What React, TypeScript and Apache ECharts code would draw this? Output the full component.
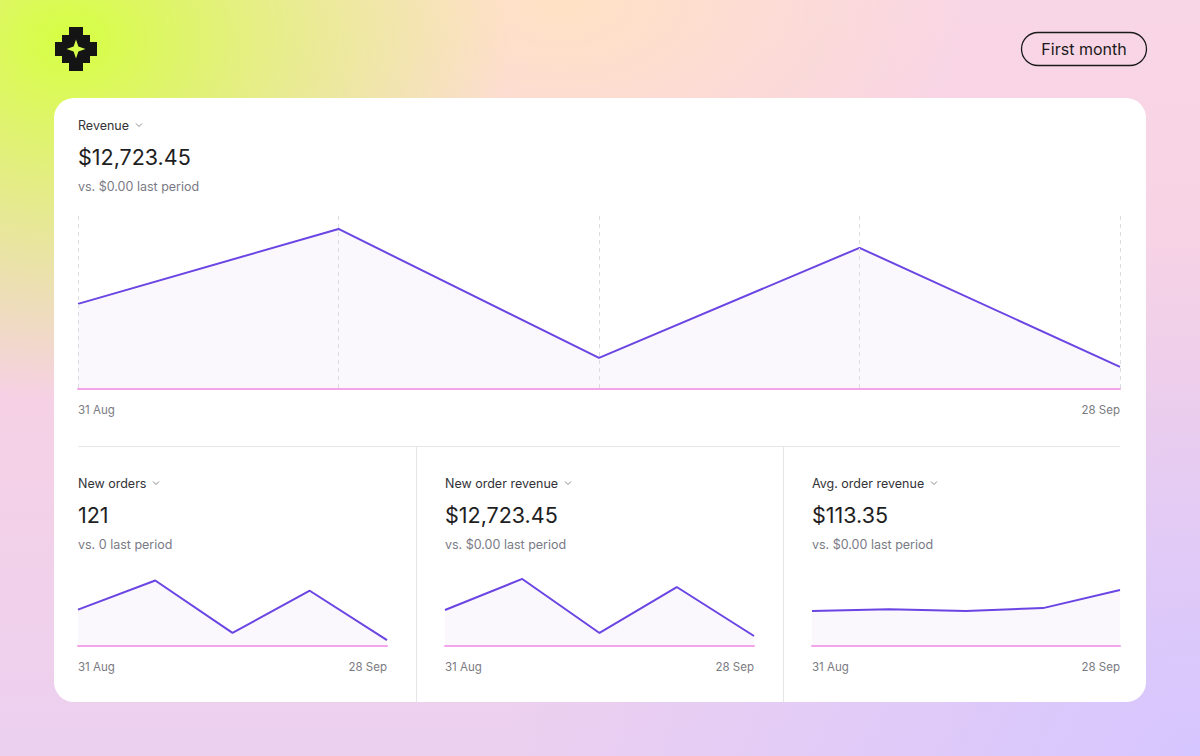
import React, { useEffect, useRef } from "react";
import * as echarts from "echarts";

const categories = ["31 Aug", "7 Sep", "14 Sep", "21 Sep", "28 Sep"];
const revenue = [2460, 4625, 900, 4080, 640];
const newOrders = [25, 45, 9, 38, 4];
const newOrderRevenue = [2475, 4610, 895, 4055, 688];
const avgOrderRevenue = [99, 104, 99, 107, 158];

const FONT = "Inter, 'Noto Sans', sans-serif";
const LINE = "#6a45e3";
const AREA = "#faf7fd";
const BASE = "#f3a5ea";

const txt = (x: number, y: number, text: string, size: number, fill: string, align = "left") => ({
  type: "text",
  x,
  y,
  style: { text, fontSize: size, fill, fontFamily: FONT, align, verticalAlign: "middle" },
  z: 10,
});

const chevron = (x: number, y: number) => ({
  type: "polyline",
  shape: { points: [[x - 3, y - 1.5], [x, y + 1.5], [x + 3, y - 1.5]] },
  style: { stroke: "#8a8a92", lineWidth: 1, fill: null },
  z: 10,
});

export default function App() {
  const ref = useRef<HTMLDivElement>(null);
  useEffect(() => {
    document.body.style.margin = "0";
    const chart = echarts.init(ref.current!, undefined, { renderer: "svg" });

    const c = 76, cy = 49;
    const crossPts = [
      [-7, -22], [7, -22], [7, -14], [14, -14], [14, -7], [21, -7], [21, 7], [14, 7], [14, 14], [7, 14],
      [7, 22], [-7, 22], [-7, 14], [-14, 14], [-14, 7], [-21, 7], [-21, -7], [-14, -7], [-14, -14], [-7, -14],
    ].map(([a, b]) => [c + a, cy + b]);
    const r = 9.5, ri = 2.4;
    const starPts = [
      [0, -r], [ri, -ri], [r, 0], [ri, ri], [0, r], [-ri, ri], [-r, 0], [-ri, -ri],
    ].map(([a, b]) => [c + a, cy + b]);

    const grids = [
      { left: 78, top: 216, width: 1042, height: 173 },
      { left: 78, top: 566, width: 309, height: 80 },
      { left: 445, top: 566, width: 309, height: 80 },
      { left: 812, top: 566, width: 308, height: 80 },
    ];
    const maxes = [5000, 55, 5500, 226];
    const datas = [revenue, newOrders, newOrderRevenue, avgOrderRevenue];

    const xAxis = grids.map((_, i) => ({
      type: "category",
      gridIndex: i,
      data: categories,
      boundaryGap: false,
      z: 6,
      axisLine: { show: true, lineStyle: { color: BASE, width: 2 } },
      axisTick: { show: false },
      axisLabel: {
        interval: 0,
        margin: 15,
        fontSize: 11.5,
        color: "#7a7a82",
        fontFamily: FONT,
        alignMinLabel: "left",
        alignMaxLabel: "right",
        formatter: (v: string, idx: number) => (idx === 0 || idx === categories.length - 1 ? v : ""),
      },
      splitLine: {
        show: i === 0,
        lineStyle: { color: "#dcdce0", type: [4, 4], width: 1 },
      },
    }));
    const yAxis = grids.map((_, i) => ({
      type: "value",
      gridIndex: i,
      min: 0,
      max: maxes[i],
      show: false,
      splitLine: { show: false },
    }));
    const series = datas.map((d, i) => ({
      type: "line",
      xAxisIndex: i,
      yAxisIndex: i,
      data: d,
      symbol: "none",
      lineStyle: { color: LINE, width: 2 },
      areaStyle: { color: AREA, opacity: 1 },
      z: 3,
    }));

    chart.setOption({
      animation: false,
      backgroundColor: "transparent",
      grid: grids,
      xAxis,
      yAxis,
      series,
      graphic: [
        { type: "rect", shape: { x: 54, y: 98, width: 1092, height: 604, r: 20 }, style: { fill: "#ffffff" }, z: 0 },
        { type: "polygon", shape: { points: crossPts }, style: { fill: "#141414" }, z: 10 },
        { type: "polygon", shape: { points: starPts }, style: { fill: "#d6fd48" }, z: 11 },
        { type: "rect", shape: { x: 1021.5, y: 32.5, width: 125, height: 33, r: 16.5 }, style: { fill: "transparent", stroke: "#1a1a1a", lineWidth: 1.3 }, z: 10 },
        txt(1084, 49, "First month", 16, "#1a1a1a", "center"),
        txt(78, 125, "Revenue", 12.5, "#333338"),
        chevron(139, 125),
        txt(78, 157, "$12,723.45", 21.5, "#1e1e22"),
        txt(78, 186, "vs. $0.00 last period", 12.5, "#7a7a85"),
        { type: "line", shape: { x1: 78, y1: 446.5, x2: 1120, y2: 446.5 }, style: { stroke: "#e6e6ea", lineWidth: 1 }, z: 5 },
        { type: "line", shape: { x1: 416.5, y1: 447, x2: 416.5, y2: 702 }, style: { stroke: "#e6e6ea", lineWidth: 1 }, z: 5 },
        { type: "line", shape: { x1: 783.5, y1: 447, x2: 783.5, y2: 702 }, style: { stroke: "#e6e6ea", lineWidth: 1 }, z: 5 },
        txt(78, 483, "New orders", 12.5, "#333338"),
        chevron(156, 483),
        txt(78, 515, "121", 21.5, "#1e1e22"),
        txt(78, 544, "vs. 0 last period", 12.5, "#7a7a85"),
        txt(445, 483, "New order revenue", 12.5, "#333338"),
        chevron(568, 483),
        txt(445, 515, "$12,723.45", 21.5, "#1e1e22"),
        txt(445, 544, "vs. $0.00 last period", 12.5, "#7a7a85"),
        txt(812, 483, "Avg. order revenue", 12.5, "#333338"),
        chevron(934, 483),
        txt(812, 515, "$113.35", 21.5, "#1e1e22"),
        txt(812, 544, "vs. $0.00 last period", 12.5, "#7a7a85"),
      ],
    });
    return () => chart.dispose();
  }, []);

  const bg = [
    "radial-gradient(ellipse 440px 360px at 70px 40px, rgba(214,255,66,1) 0%, rgba(214,255,66,0.55) 45%, rgba(214,255,66,0) 100%)",
    "radial-gradient(ellipse 420px 260px at 560px 0px, rgba(255,226,196,1) 0%, rgba(255,226,196,0) 100%)",
    "radial-gradient(ellipse 700px 520px at 1200px 756px, rgba(214,198,255,1) 0%, rgba(214,198,255,0) 100%)",
    "linear-gradient(180deg, #f9d6e6 0%, #f6d1e4 50%, #ecd0f0 100%)",
  ].join(",");

  return (
    <div style={{ position: "absolute", left: 0, top: 0, width: 1200, height: 756, background: bg, overflow: "hidden" }}>
      <div ref={ref} style={{ width: 1200, height: 756 }} />
    </div>
  );
}
